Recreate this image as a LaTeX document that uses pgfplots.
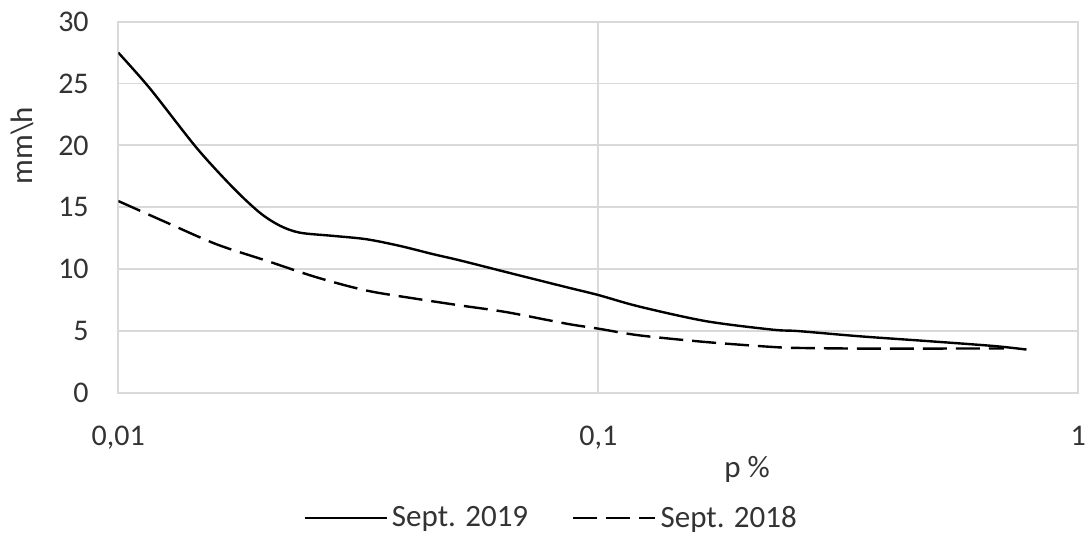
\documentclass[border=0pt]{standalone}
\usepackage{fontspec}
\setmainfont{Carlito}
\usepackage{pgfplots}
\pgfplotsset{compat=1.18}
\definecolor{gridgray}{HTML}{D9D9D9}
\begin{document}
\begin{tikzpicture}
\path[use as bounding box] (-59.15pt,-72.15pt) rectangle (486.35pt,196.35pt);
\begin{axis}[
    at={(0pt,0pt)}, anchor=south west,
    scale only axis,
    width=480pt, height=185.5pt,
    xmode=log,
    xmin=0.01, xmax=1,
    ymin=0, ymax=30,
    xtick={0.01,0.1,1},
    xticklabels={{0,01},{0,1},1},
    ytick={0,5,...,30},
    minor xtick={},
    major tick length=0pt,
    minor tick length=0pt,
    tick style={draw=none},
    grid=major,
    grid style={gridgray, line width=0.9pt},
    axis line style={gridgray, line width=0.9pt},
    /pgf/number format/assume math mode=true,
    tick label style={font=\fontsize{15}{17}\selectfont, text=black!80},
    yticklabel style={anchor=east, inner sep=0pt, xshift=-14.6pt},
    xticklabel style={anchor=north, inner sep=0pt, yshift=-16.6pt},
    xlabel={p \%},
    ylabel={mm\textbackslash h},
    label style={font=\fontsize{15.5}{17}\selectfont, text=black!80},
    xlabel style={at={(axis description cs:0.655,0)}, anchor=base, yshift=-42.6pt},
    ylabel style={at={(axis description cs:0,0.666)}, anchor=center, yshift=47.9pt},
    legend columns=2,
    legend style={at={(axis description cs:0.452,0)}, anchor=center, yshift=-62.6pt,
        draw=none, fill=none, font=\fontsize{15.5}{17}\selectfont, text=black!80,
        /tikz/every even column/.append style={column sep=20pt}},
    legend image code/.code={\draw[#1] (0pt,0pt) -- (41pt,0pt);},
]
\addplot[black, line width=1.2pt, smooth] coordinates {
    (0.01,27.5) (0.01164,24.6) (0.01456,19.8) (0.01736,16.56) (0.01973,14.55)
    (0.02173,13.5) (0.0239,12.94) (0.02805,12.68) (0.0329,12.41) (0.03862,11.87)
    (0.04531,11.2) (0.0515,10.7) (0.0645,9.74) (0.0859,8.53) (0.1,7.9)
    (0.1216,6.97) (0.1673,5.79) (0.2304,5.1) (0.2618,4.98) (0.351,4.56)
    (0.483,4.18) (0.665,3.78) (0.78,3.49)
};
\addlegendentry{Sept. 2019}
\addplot[black, line width=1.2pt, dash pattern=on 12pt off 4.5pt, smooth] coordinates {
    (0.01,15.5) (0.01261,13.76) (0.01603,12.0) (0.02037,10.67) (0.0259,9.33)
    (0.0329,8.26) (0.04185,7.59) (0.0515,7.06) (0.0645,6.51) (0.0859,5.58)
    (0.1,5.18) (0.1216,4.64) (0.1673,4.1) (0.2304,3.7) (0.2618,3.62)
    (0.35,3.57) (0.5,3.57) (0.7,3.58)
};
\addlegendentry{Sept. 2018}
\end{axis}
\end{tikzpicture}
\end{document}
